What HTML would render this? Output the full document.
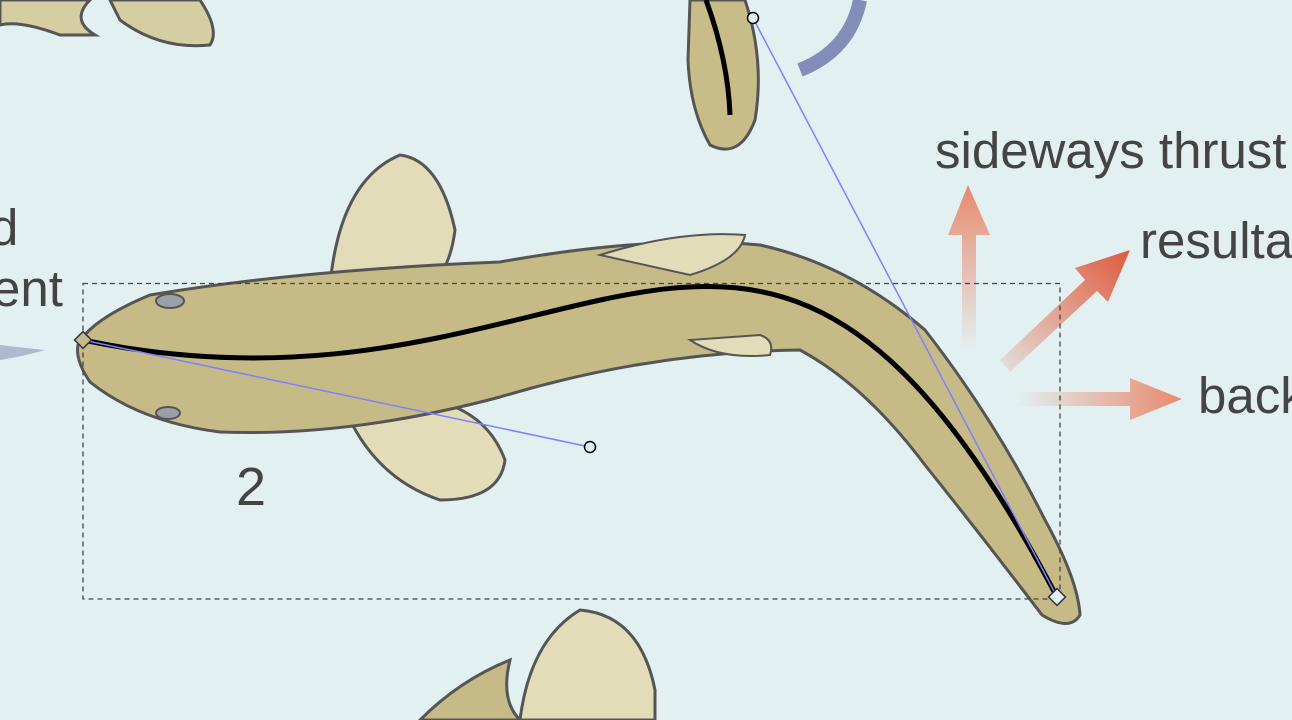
<!DOCTYPE html>
<html><head><meta charset="utf-8"><style>
html,body{margin:0;padding:0;background:#e3f0f1;}
svg{display:block;}
text{font-family:"Liberation Sans",sans-serif;}
</style></head><body>
<svg width="1292" height="720" viewBox="0 0 1292 720">
<defs>
<linearGradient id="ar" x1="0" y1="1" x2="0" y2="0"><stop offset="0" stop-color="#e8896e" stop-opacity="0"/><stop offset="1" stop-color="#e8896e"/></linearGradient>
<linearGradient id="ar2" x1="0" y1="1" x2="1" y2="0"><stop offset="0" stop-color="#e05a3c" stop-opacity="0.1"/><stop offset="1" stop-color="#e05a3c"/></linearGradient>
<linearGradient id="ar3" x1="0" y1="0" x2="1" y2="0"><stop offset="0" stop-color="#e8896e" stop-opacity="0"/><stop offset="1" stop-color="#e8896e"/></linearGradient>
</defs>
<rect width="1292" height="720" fill="#e3f0f1"/>
<path d="M0,0 L90,0 Q70,20 95,35 L60,35 Q20,20 0,25Z" fill="#d6cea3" stroke="#555" stroke-width="3"/>
<path d="M110,0 L200,0 Q220,30 210,45 Q160,50 120,20Z" fill="#d6cea3" stroke="#555" stroke-width="3"/>
<path d="M690,0 L745,0 Q765,60 755,120 Q740,160 710,145 Q690,110 688,60Z" fill="#c8bd88" stroke="#555" stroke-width="3"/>
<path d="M706,0 Q728,60 730,115" fill="none" stroke="#000" stroke-width="5"/>
<path d="M860,0 Q850,50 800,70" fill="none" stroke="#5a64a0" stroke-width="14" opacity="0.7"/>
<path d="M330,285 Q340,180 400,155 Q440,160 455,230 Q450,270 430,285Z" fill="#e2dcb9" stroke="#555" stroke-width="3"/>
<path d="M350,420 Q380,480 440,500 Q500,500 505,460 Q490,420 450,405Z" fill="#e2dcb9" stroke="#555" stroke-width="3"/>
<path d="M78,345 Q90,320 150,295 Q300,270 500,262 Q650,235 760,245 Q850,265 925,330 Q995,420 1045,520 Q1078,580 1080,615 Q1070,632 1042,615 Q985,540 925,465 Q865,385 800,350 Q650,352 500,397 Q350,437 220,432 Q140,422 90,382 Q75,360 78,345Z" fill="#c6bb86" stroke="#555" stroke-width="3"/>
<path d="M600,255 Q680,230 745,235 Q740,260 690,275Z" fill="#e2dcb9" stroke="#555" stroke-width="2"/>
<path d="M690,340 Q720,360 770,355 Q775,340 760,335Z" fill="#e2dcb9" stroke="#555" stroke-width="2"/>
<ellipse cx="170" cy="301" rx="14" ry="7" fill="#9aa0a8" stroke="#555" stroke-width="2"/>
<ellipse cx="168" cy="413" rx="12" ry="6" fill="#9aa0a8" stroke="#555" stroke-width="2"/>
<path d="M420,720 Q460,680 510,660 Q500,700 520,720Z" fill="#c6bb86" stroke="#555" stroke-width="3"/>
<path d="M520,720 Q530,640 580,610 Q640,615 655,690 L655,720Z" fill="#e2dcb9" stroke="#555" stroke-width="3"/>
<path d="M0,345 Q25,348 45,350 Q25,356 0,360Z" fill="#8c92b8" opacity="0.6"/>
<path d="M962,350 L962,235 L948,235 L968,185 L990,235 L976,235 L976,350Z" fill="url(#ar)"/>
<path d="M1000,360 L1085,280 L1075,268 L1130,250 L1108,302 L1097,291 L1010,372Z" fill="url(#ar2)"/>
<path d="M1015,392 L1130,392 L1130,378 L1182,399 L1130,420 L1130,406 L1015,406Z" fill="url(#ar3)"/>
<g fill="#444" font-size="51">
<text x="935" y="168">sideways thrust</text>
<text x="1140" y="258">resultant</text>
<text x="1198" y="413">backward</text>
<text x="-10" y="245">d</text>
<text x="-8" y="306">ent</text>
<text x="236" y="505" font-size="54">2</text>
</g>
<rect x="83" y="283.5" width="977" height="315.5" fill="none" stroke="#444" stroke-width="1.3" stroke-dasharray="5,4"/>
<path d="M83,340 C590,447 753,18 1057,597" fill="none" stroke="#000" stroke-width="5"/>
<line x1="83" y1="340" x2="590" y2="447" stroke="#8080ff" stroke-width="1.5"/>
<line x1="1057" y1="597" x2="753" y2="18" stroke="#8080ff" stroke-width="1.5"/>
<circle cx="590" cy="447" r="5.5" fill="#e3f0f1" stroke="#000" stroke-width="1.5"/>
<circle cx="753" cy="18" r="5.5" fill="#e3f0f1" stroke="#000" stroke-width="1.5"/>
<rect x="77" y="334" width="12" height="12" transform="rotate(45 83 340)" fill="#c6bb86" stroke="#334" stroke-width="1.5"/>
<rect x="1051" y="591" width="12" height="12" transform="rotate(45 1057 597)" fill="#e3f0f1" stroke="#334" stroke-width="1.5"/>
</svg>
</body></html>
